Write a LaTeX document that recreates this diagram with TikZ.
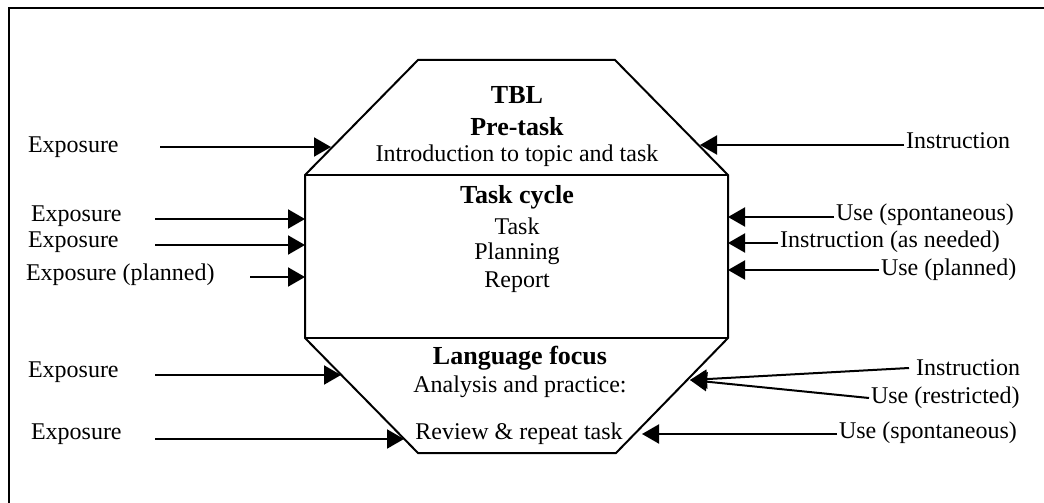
\documentclass[tikz,border=0pt]{standalone}
\usepackage{fontspec}
\setmainfont{Liberation Serif}
\usetikzlibrary{arrows.meta}

\begin{document}
\begin{tikzpicture}[x=1pt, y=-1pt, line width=2pt,
    txt/.style={inner sep=1pt, font=\fontsize{24}{28}\selectfont},
    stage/.style={inner sep=0pt, font=\fontsize{24}{28}\selectfont},
    head/.style={stage, font=\fontsize{26}{30}\selectfont\bfseries},
    feed/.style={-{Triangle[length=17pt,width=19pt]}}]
    \useasboundingbox (0,0) rectangle (1044,503);
    % Outer frame
    \draw[line width=1.5pt] (9,503) -- (9,8) -- (1044,8);
    % Corners of the octagon
    \coordinate (top left) at (418,60);
    \coordinate (top right) at (615,60);
    \coordinate (upper right) at (728,175);
    \coordinate (lower right) at (728,338);
    \coordinate (bottom right) at (616,453);
    \coordinate (bottom left) at (418,453);
    \coordinate (lower left) at (305,338);
    \coordinate (upper left) at (305,175);
    \draw (top left) -- (top right) -- (upper right) -- (lower right) -- (bottom right)
      -- (bottom left) -- (lower left) -- (upper left) -- cycle;
    \draw (upper left) -- (upper right);
    \draw (lower left) -- (lower right);
    % Stages
    \node[head] (tbl) at (517,95) {TBL};
    \node[head] (pretask) at (517,127) {Pre-task};
    \node[stage] (intro) at (517,156) {Introduction to topic and task};
    \node[head] (cycle) at (517,197) {Task cycle};
    \node[stage] (task) at (517,226) {Task};
    \node[stage] (planning) at (517,254) {Planning};
    \node[stage] (report) at (517,282) {Report};
    \node[head] (focus) at (520,358) {Language focus};
    \node[stage] (analysis) at (520,387) {Analysis and practice:};
    \node[stage] (review) at (519,434) {Review \& repeat task};
    % Left side: exposure
    \node[txt, anchor=west] (exp a) at (26,147) {Exposure};
    \node[txt, anchor=west] (exp b) at (29,216) {Exposure};
    \node[txt, anchor=west] (exp c) at (26,242) {Exposure};
    \node[txt, anchor=west] (exp d) at (24,275) {Exposure (planned)};
    \node[txt, anchor=west] (exp e) at (26,372) {Exposure};
    \node[txt, anchor=west] (exp f) at (29,434) {Exposure};
    \coordinate (from a) at (160,147);
    \coordinate (from b) at (155,219);
    \coordinate (from c) at (155,245);
    \coordinate (from d) at (250,277);
    \coordinate (from e) at (155,375);
    \coordinate (from f) at (155,439);
    \coordinate (tip a) at (331,147);
    \coordinate (tip b) at (305,219);
    \coordinate (tip c) at (305,245);
    \coordinate (tip d) at (305,277);
    \coordinate (tip e) at (341,375);
    \coordinate (tip f) at (404,439);
    \draw[feed] (from a) -- (tip a);
    \draw[feed] (from b) -- (tip b);
    \draw[feed] (from c) -- (tip c);
    \draw[feed] (from d) -- (tip d);
    \draw[feed] (from e) -- (tip e);
    \draw[feed] (from f) -- (tip f);
    % Right side: instruction and use
    \node[txt, anchor=west] (ins a) at (904,141) {Instruction};
    \node[txt, anchor=west] (use a) at (834,215) {Use (spontaneous)};
    \node[txt, anchor=west] (ins b) at (778,242) {Instruction (as needed)};
    \node[txt, anchor=west] (use b) at (879,270) {Use (planned)};
    \node[txt, anchor=west] (ins c) at (914,368) {Instruction};
    \node[txt, anchor=west] (use c) at (869,398) {Use (restricted)};
    \node[txt, anchor=west] (use d) at (837,433) {Use (spontaneous)};
    \coordinate (tip g) at (700,145);
    \coordinate (tip h) at (728,217);
    \coordinate (tip i) at (728,243);
    \coordinate (tip j) at (728,270);
    \coordinate (tip k) at (690,380);
    \coordinate (tip l) at (642,434);
    \draw[feed] (ins a.west |- tip g) -- (tip g);
    \draw[feed] (use a.west |- tip h) -- (tip h);
    \draw[feed] (ins b.west |- tip i) -- (tip i);
    \draw[feed] (use b.west |- tip j) -- (tip j);
    \draw[feed] ([xshift=-5pt]ins c.west) -- (tip k);
    \draw[feed] (use c.west) -- (tip k);
    \draw[feed] (use d.west |- tip l) -- (tip l);
\end{tikzpicture}
\end{document}
